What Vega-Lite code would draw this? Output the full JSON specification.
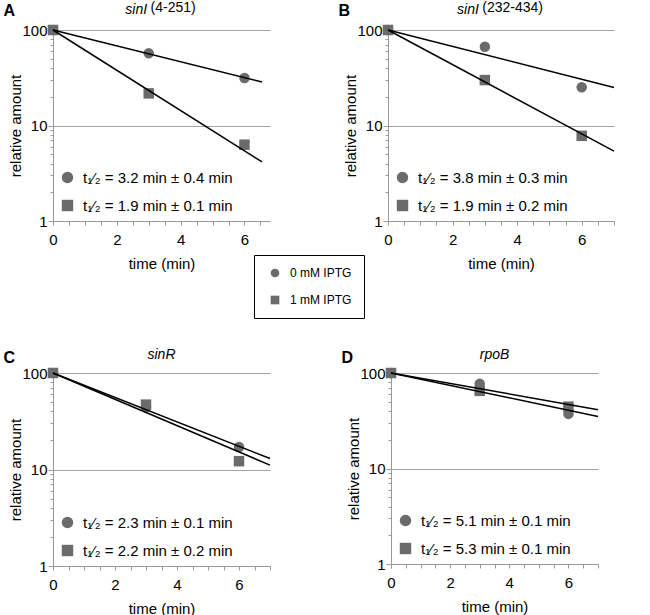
{
  "$schema": "https://vega.github.io/schema/vega-lite/v6.json",
  "padding": {"left": 3, "top": 1, "right": 2, "bottom": 0},
  "datasets": {
    "points": [
      {"panel": "A", "cond": "0 mM IPTG", "t": 0, "v": 100},
      {"panel": "A", "cond": "0 mM IPTG", "t": 3, "v": 57},
      {"panel": "A", "cond": "0 mM IPTG", "t": 6, "v": 31.4},
      {"panel": "A", "cond": "1 mM IPTG", "t": 0, "v": 100},
      {"panel": "A", "cond": "1 mM IPTG", "t": 3, "v": 21.7},
      {"panel": "A", "cond": "1 mM IPTG", "t": 6, "v": 6.3},
      {"panel": "B", "cond": "0 mM IPTG", "t": 0, "v": 100},
      {"panel": "B", "cond": "0 mM IPTG", "t": 3, "v": 66.8},
      {"panel": "B", "cond": "0 mM IPTG", "t": 6, "v": 25.1},
      {"panel": "B", "cond": "1 mM IPTG", "t": 0, "v": 100},
      {"panel": "B", "cond": "1 mM IPTG", "t": 3, "v": 29.9},
      {"panel": "B", "cond": "1 mM IPTG", "t": 6, "v": 7.8},
      {"panel": "C", "cond": "0 mM IPTG", "t": 0, "v": 100},
      {"panel": "C", "cond": "0 mM IPTG", "t": 3, "v": 44},
      {"panel": "C", "cond": "0 mM IPTG", "t": 6, "v": 17.1},
      {"panel": "C", "cond": "1 mM IPTG", "t": 0, "v": 100},
      {"panel": "C", "cond": "1 mM IPTG", "t": 3, "v": 47},
      {"panel": "C", "cond": "1 mM IPTG", "t": 6, "v": 12.2},
      {"panel": "D", "cond": "0 mM IPTG", "t": 0, "v": 100},
      {"panel": "D", "cond": "0 mM IPTG", "t": 3, "v": 77},
      {"panel": "D", "cond": "0 mM IPTG", "t": 6, "v": 37.3},
      {"panel": "D", "cond": "1 mM IPTG", "t": 0, "v": 100},
      {"panel": "D", "cond": "1 mM IPTG", "t": 3, "v": 65},
      {"panel": "D", "cond": "1 mM IPTG", "t": 6, "v": 44.4}
    ],
    "fits": [
      {"panel": "A", "cond": "0 mM IPTG", "t": 0, "v": 100},
      {"panel": "A", "cond": "0 mM IPTG", "t": 6.55, "v": 28.5},
      {"panel": "A", "cond": "1 mM IPTG", "t": 0, "v": 100},
      {"panel": "A", "cond": "1 mM IPTG", "t": 6.55, "v": 4.15},
      {"panel": "B", "cond": "0 mM IPTG", "t": 0, "v": 100},
      {"panel": "B", "cond": "0 mM IPTG", "t": 7, "v": 25},
      {"panel": "B", "cond": "1 mM IPTG", "t": 0, "v": 100},
      {"panel": "B", "cond": "1 mM IPTG", "t": 7, "v": 5.4},
      {"panel": "C", "cond": "0 mM IPTG", "t": 0, "v": 100},
      {"panel": "C", "cond": "0 mM IPTG", "t": 7, "v": 13.0},
      {"panel": "C", "cond": "1 mM IPTG", "t": 0, "v": 100},
      {"panel": "C", "cond": "1 mM IPTG", "t": 7, "v": 11.1},
      {"panel": "D", "cond": "0 mM IPTG", "t": 0, "v": 100},
      {"panel": "D", "cond": "0 mM IPTG", "t": 7, "v": 35.1},
      {"panel": "D", "cond": "1 mM IPTG", "t": 0, "v": 100},
      {"panel": "D", "cond": "1 mM IPTG", "t": 7, "v": 41.3}
    ]
  },
  "resolve": {"scale": {"shape": "independent"}, "legend": {"shape": "independent"}},
  "spacing": 77,
  "vconcat": [
    {
      "hconcat": [
        {
          "title": {"text": "A", "anchor": "start", "frame": "bounds", "fontSize": 16, "fontWeight": "bold", "font": "Liberation Sans", "color": "#000", "offset": -18, "dx": -5},
          "resolve": {"scale": {"shape": "independent"}, "legend": {"shape": "independent"}},
          "vconcat": [
            {
              "title": {"text": "sinI\u00a0\u00a0\u00a0\u00a0\u00a0\u00a0\u00a0\u00a0\u00a0\u00a0\u00a0\u00a0\u00a0\u200b", "subtitle": "\u200b\u00a0\u00a0\u00a0\u00a0\u00a0\u00a0(4-251)", "anchor": "middle", "frame": "group", "fontStyle": "italic", "fontWeight": "normal", "fontSize": 14, "font": "Liberation Sans", "color": "#000", "subtitleFont": "Liberation Sans", "subtitleFontSize": 14, "subtitleFontStyle": "normal", "subtitleColor": "#000", "subtitlePadding": -16, "offset": 4},
              "width": 217,
              "height": 191,
              "encoding": {
                "x": {"field": "t", "type": "quantitative", "scale": {"domain": [0, 6.8], "nice": false, "zero": false},
                  "axis": {"title": "time (min)", "values": [0, 0.5, 1, 1.5, 2, 2.5, 3, 3.5, 4, 4.5, 5, 5.5, 6, 6.5], "labelExpr": "datum.value % 2 === 0 ? format(datum.value, 'd') : ''"}},
                "y": {"field": "v", "type": "quantitative", "scale": {"type": "log", "domain": [1, 100], "nice": false},
                  "axis": {"title": "relative amount", "values": [1, 2, 3, 4, 5, 6, 7, 8, 9, 10, 20, 30, 40, 50, 60, 70, 80, 90, 100], "labelExpr": "datum.value === 1 || datum.value === 10 || datum.value === 100 ? format(datum.value, 'd') : ''", "grid": true, "gridOpacity": {"condition": {"test": "datum.value === 10 || datum.value === 100", "value": 1}, "value": 0}, "tickSize": {"condition": {"test": "datum.value === 1 || datum.value === 10 || datum.value === 100", "value": 5}, "value": 3}}}
              },
              "layer": [
                {
                  "data": {"name": "points"},
                  "transform": [{"filter": "datum.panel === 'A'"}],
                  "mark": {"type": "point", "filled": true, "size": 110, "opacity": 1, "strokeWidth": 0},
                  "encoding": {
                    "shape": {"field": "cond", "type": "nominal", "scale": {"range": ["circle", "square"]},
                      "legend": {"labelExpr": "datum.value === '0 mM IPTG' ? 't\u2081\u2044\u2082 = 3.2 min \u00b1 0.4 min' : 't\u2081\u2044\u2082 = 1.9 min \u00b1 0.1 min'"}},
                    "color": {"field": "cond", "type": "nominal", "scale": {"range": ["#6b6b6b", "#6b6b6b"]},
                      "legend": {"title": null, "orient": "none", "legendX": 201, "legendY": 225, "strokeColor": "#000", "padding": 12, "symbolSize": 75, "symbolStrokeWidth": 0, "labelFontSize": 12, "labelColor": "#000", "labelOffset": 9, "rowPadding": 15, "symbolOffset": 3,
                        "encoding": {"symbols": {"shape": {"condition": {"test": "datum.value === '1 mM IPTG'", "value": "square"}, "value": "circle"}}}}}
                  }
                },
                {
                  "data": {"name": "fits"},
                  "transform": [{"filter": "datum.panel === 'A'"}],
                  "mark": {"type": "line", "color": "#000", "strokeWidth": 1.5},
                  "encoding": {"detail": {"field": "cond", "type": "nominal"}}
                }
              ]
            }
          ]
        },
        {
          "title": {"text": "B", "anchor": "start", "frame": "bounds", "fontSize": 16, "fontWeight": "bold", "font": "Liberation Sans", "color": "#000", "offset": -18, "dx": -5},
          "resolve": {"scale": {"shape": "independent"}, "legend": {"shape": "independent"}},
          "vconcat": [
            {
              "title": {"text": "sinI\u00a0\u00a0\u00a0\u00a0\u00a0\u00a0\u00a0\u00a0\u00a0\u00a0\u00a0\u00a0\u00a0\u00a0\u00a0\u00a0\u00a0\u200b", "subtitle": "\u200b\u00a0\u00a0\u00a0\u00a0\u00a0\u00a0(232-434)", "anchor": "middle", "frame": "group", "fontStyle": "italic", "fontWeight": "normal", "fontSize": 14, "font": "Liberation Sans", "color": "#000", "subtitleFont": "Liberation Sans", "subtitleFontSize": 14, "subtitleFontStyle": "normal", "subtitleColor": "#000", "subtitlePadding": -16, "offset": 4},
              "width": 226,
              "height": 191,
              "encoding": {
                "x": {"field": "t", "type": "quantitative", "scale": {"domain": [0, 7], "nice": false, "zero": false},
                  "axis": {"title": "time (min)", "values": [0, 0.5, 1, 1.5, 2, 2.5, 3, 3.5, 4, 4.5, 5, 5.5, 6, 6.5, 7], "labelExpr": "datum.value % 2 === 0 ? format(datum.value, 'd') : ''"}},
                "y": {"field": "v", "type": "quantitative", "scale": {"type": "log", "domain": [1, 100], "nice": false},
                  "axis": {"title": "relative amount", "values": [1, 2, 3, 4, 5, 6, 7, 8, 9, 10, 20, 30, 40, 50, 60, 70, 80, 90, 100], "labelExpr": "datum.value === 1 || datum.value === 10 || datum.value === 100 ? format(datum.value, 'd') : ''", "grid": true, "gridOpacity": {"condition": {"test": "datum.value === 10 || datum.value === 100", "value": 1}, "value": 0}, "tickSize": {"condition": {"test": "datum.value === 1 || datum.value === 10 || datum.value === 100", "value": 5}, "value": 3}}}
              },
              "layer": [
                {
                  "data": {"name": "points"},
                  "transform": [{"filter": "datum.panel === 'B'"}],
                  "mark": {"type": "point", "filled": true, "size": 110, "opacity": 1, "strokeWidth": 0, "color": "#6b6b6b"},
                  "encoding": {
                    "shape": {"field": "cond", "type": "nominal", "scale": {"range": ["circle", "square"]},
                      "legend": {"labelExpr": "datum.value === '0 mM IPTG' ? 't\u2081\u2044\u2082 = 3.8 min \u00b1 0.3 min' : 't\u2081\u2044\u2082 = 1.9 min \u00b1 0.2 min'"}}
                  }
                },
                {
                  "data": {"name": "fits"},
                  "transform": [{"filter": "datum.panel === 'B'"}],
                  "mark": {"type": "line", "color": "#000", "strokeWidth": 1.5},
                  "encoding": {"detail": {"field": "cond", "type": "nominal"}}
                }
              ]
            }
          ]
        }
      ],
      "spacing": 68,
      "resolve": {"scale": {"shape": "independent"}, "legend": {"shape": "independent"}}
    },
    {
      "hconcat": [
        {
          "title": {"text": "C", "anchor": "start", "frame": "bounds", "fontSize": 16, "fontWeight": "bold", "font": "Liberation Sans", "color": "#000", "offset": -18, "dx": -5},
          "resolve": {"scale": {"shape": "independent"}, "legend": {"shape": "independent"}},
          "vconcat": [
            {
              "title": {"text": "sinR", "anchor": "middle", "frame": "group", "fontStyle": "italic", "fontWeight": "normal", "fontSize": 14, "font": "Liberation Sans", "color": "#000", "offset": 4},
              "width": 217,
              "height": 193,
              "encoding": {
                "x": {"field": "t", "type": "quantitative", "scale": {"domain": [0, 7], "nice": false, "zero": false},
                  "axis": {"title": "time (min)", "values": [0, 0.5, 1, 1.5, 2, 2.5, 3, 3.5, 4, 4.5, 5, 5.5, 6, 6.5, 7], "labelExpr": "datum.value % 2 === 0 ? format(datum.value, 'd') : ''"}},
                "y": {"field": "v", "type": "quantitative", "scale": {"type": "log", "domain": [1, 100], "nice": false},
                  "axis": {"title": "relative amount", "values": [1, 2, 3, 4, 5, 6, 7, 8, 9, 10, 20, 30, 40, 50, 60, 70, 80, 90, 100], "labelExpr": "datum.value === 1 || datum.value === 10 || datum.value === 100 ? format(datum.value, 'd') : ''", "grid": true, "gridOpacity": {"condition": {"test": "datum.value === 10 || datum.value === 100", "value": 1}, "value": 0}, "tickSize": {"condition": {"test": "datum.value === 1 || datum.value === 10 || datum.value === 100", "value": 5}, "value": 3}}}
              },
              "layer": [
                {
                  "data": {"name": "points"},
                  "transform": [{"filter": "datum.panel === 'C'"}],
                  "mark": {"type": "point", "filled": true, "size": 110, "opacity": 1, "strokeWidth": 0, "color": "#6b6b6b"},
                  "encoding": {
                    "shape": {"field": "cond", "type": "nominal", "scale": {"range": ["circle", "square"]},
                      "legend": {"labelExpr": "datum.value === '0 mM IPTG' ? 't\u2081\u2044\u2082 = 2.3 min \u00b1 0.1 min' : 't\u2081\u2044\u2082 = 2.2 min \u00b1 0.2 min'"}}
                  }
                },
                {
                  "data": {"name": "fits"},
                  "transform": [{"filter": "datum.panel === 'C'"}],
                  "mark": {"type": "line", "color": "#000", "strokeWidth": 1.5},
                  "encoding": {"detail": {"field": "cond", "type": "nominal"}}
                }
              ]
            }
          ]
        },
        {
          "title": {"text": "D", "anchor": "start", "frame": "bounds", "fontSize": 16, "fontWeight": "bold", "font": "Liberation Sans", "color": "#000", "offset": -18, "dx": -5},
          "resolve": {"scale": {"shape": "independent"}, "legend": {"shape": "independent"}},
          "vconcat": [
            {
              "title": {"text": "rpoB", "anchor": "middle", "frame": "group", "fontStyle": "italic", "fontWeight": "normal", "fontSize": 14, "font": "Liberation Sans", "color": "#000", "offset": 4},
              "width": 207,
              "height": 191,
              "encoding": {
                "x": {"field": "t", "type": "quantitative", "scale": {"domain": [0, 7], "nice": false, "zero": false},
                  "axis": {"title": "time (min)", "values": [0, 0.5, 1, 1.5, 2, 2.5, 3, 3.5, 4, 4.5, 5, 5.5, 6, 6.5, 7], "labelExpr": "datum.value % 2 === 0 ? format(datum.value, 'd') : ''"}},
                "y": {"field": "v", "type": "quantitative", "scale": {"type": "log", "domain": [1, 100], "nice": false},
                  "axis": {"title": "relative amount", "values": [1, 2, 3, 4, 5, 6, 7, 8, 9, 10, 20, 30, 40, 50, 60, 70, 80, 90, 100], "labelExpr": "datum.value === 1 || datum.value === 10 || datum.value === 100 ? format(datum.value, 'd') : ''", "grid": true, "gridOpacity": {"condition": {"test": "datum.value === 10 || datum.value === 100", "value": 1}, "value": 0}, "tickSize": {"condition": {"test": "datum.value === 1 || datum.value === 10 || datum.value === 100", "value": 5}, "value": 3}}}
              },
              "layer": [
                {
                  "data": {"name": "points"},
                  "transform": [{"filter": "datum.panel === 'D'"}],
                  "mark": {"type": "point", "filled": true, "size": 110, "opacity": 1, "strokeWidth": 0, "color": "#6b6b6b"},
                  "encoding": {
                    "shape": {"field": "cond", "type": "nominal", "scale": {"range": ["circle", "square"]},
                      "legend": {"labelExpr": "datum.value === '0 mM IPTG' ? 't\u2081\u2044\u2082 = 5.1 min \u00b1 0.1 min' : 't\u2081\u2044\u2082 = 5.3 min \u00b1 0.1 min'"}}
                  }
                },
                {
                  "data": {"name": "fits"},
                  "transform": [{"filter": "datum.panel === 'D'"}],
                  "mark": {"type": "line", "color": "#000", "strokeWidth": 1.5},
                  "encoding": {"detail": {"field": "cond", "type": "nominal"}}
                }
              ]
            }
          ]
        }
      ],
      "spacing": 68,
      "resolve": {"scale": {"shape": "independent"}, "legend": {"shape": "independent"}}
    }
  ],
  "config": {
    "font": "Liberation Sans",
    "view": {"stroke": null},
    "axis": {
      "labelFont": "Liberation Sans", "titleFont": "Liberation Sans",
      "labelFontSize": 15, "titleFontSize": 15, "titleFontWeight": "normal",
      "labelColor": "#000", "titleColor": "#000",
      "domainColor": "#999", "tickColor": "#999", "gridColor": "#a3a3a3", "gridWidth": 1,
      "labelFlush": false, "labelOverlap": false
    },
    "axisX": {"grid": false, "tickSize": 4, "labelPadding": 7, "titlePadding": 9},
    "axisY": {"labelPadding": 1, "titlePadding": -1.5},
    "legend": {
      "title": null, "orient": "bottom-left", "offset": 3, "padding": 4,
      "symbolSize": 130, "symbolFillColor": "#6b6b6b", "symbolStrokeWidth": 0,
      "labelFontSize": 15, "labelFont": "Liberation Sans", "labelColor": "#000",
      "labelOffset": 8, "rowPadding": 12, "labelLimit": 300
    }
  }
}
